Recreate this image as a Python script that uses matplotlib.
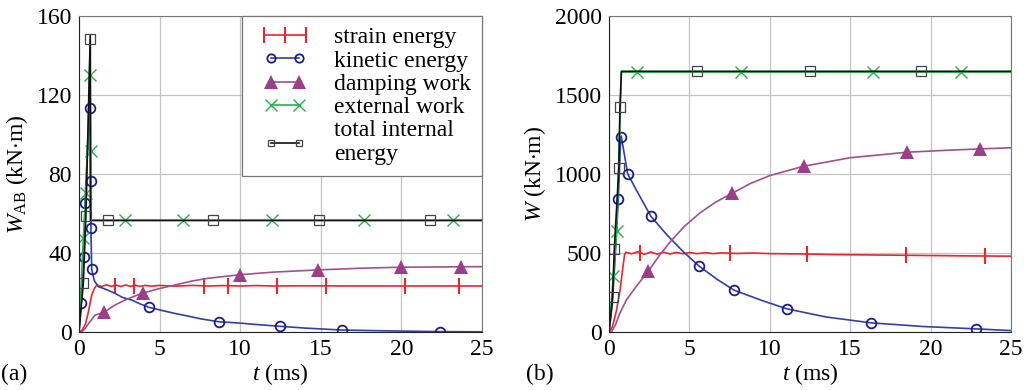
import numpy as np
import matplotlib.pyplot as plt
from matplotlib.lines import Line2D
from matplotlib.legend_handler import HandlerLine2D

plt.rcParams['font.family'] = ['Liberation Serif', 'DejaVu Serif']
plt.rcParams['mathtext.fontset'] = 'custom'
plt.rcParams['mathtext.rm'] = 'Liberation Serif'
plt.rcParams['mathtext.it'] = 'Liberation Serif:italic'

# (a) 선 데이터
ta_strain = [0, 0.2, 0.4, 0.58, 0.7, 0.8, 0.95, 1.1, 1.4, 1.7, 2.0, 2.3, 2.6, 2.9, 3.2, 3.5, 3.8, 4.1,
             4.5, 5, 6, 7, 8, 9, 10, 11, 12, 14, 17, 20, 25]
wa_strain = [0, 1, 4, 10, 15, 19, 22, 23.8, 23.0, 23.9, 23.1, 23.8, 23.0, 23.8, 23.1, 23.7, 23.1, 23.6,
             23.2, 23.6, 23.2, 23.6, 23.3, 23.5, 23.3, 23.5, 23.3, 23.4, 23.3, 23.3, 23.3]
ta_kinetic = [0, 0.14, 0.31, 0.37, 0.55, 0.68, 0.70, 0.72, 0.74, 0.79, 0.95, 1.2, 1.7, 2.23, 2.7, 3.27,
              3.8, 4.34, 5.1, 5.96, 6.8, 7.6, 8.68, 10, 11, 12.3, 14, 16.3, 19, 22.4, 25]
wa_kinetic = [0, 14.8, 37.8, 65.5, 95, 113.3, 118, 78, 52, 31.7, 26, 23, 21.5, 19.6, 17.5, 16.2,
              14.2, 12.5, 11, 9.4, 8, 6.6, 5.2, 4.5, 3.8, 3.0, 2.0, 1.0, 0.6, 0.2, 0.1]
ta_damping = [0, 0.16, 0.4, 0.68, 1.0, 1.57, 2.2, 2.85, 3.4, 4.0, 5.0, 5.96, 7, 8, 10, 12, 15, 17.5, 20, 25]
wa_damping = [0, 0, 2, 5.2, 8.6, 10, 13.5, 16.2, 18, 19.8, 22, 23.8, 25.8, 27.2, 29, 30.3, 31.5, 32.3, 32.8, 33.1]
ta_external = [0, 0.2, 0.27, 0.43, 0.6, 0.7, 0.72, 25]
wa_external = [0, 35, 47.5, 70.5, 110, 148, 56.5, 56.5]
ta_total = [0, 0.27, 0.43, 0.55, 0.7, 0.72, 25]
wa_total = [0, 24.8, 58.7, 100, 150, 56.5, 56.5]

# (a) 마커 데이터
ma_strain = ([2.23, 3.43, 7.77, 9.26, 12.3, 15.3, 20.2, 23.6], [23.5, 23.5, 23.4, 23.4, 23.3, 23.3, 23.3, 23.3])
ma_kinetic = ([0.14, 0.31, 0.37, 0.68, 0.72, 0.74, 0.79, 4.34, 8.68, 12.5, 16.3, 22.4],
              [14.8, 37.8, 65.5, 113.3, 76.6, 52.5, 31.7, 12.5, 5.2, 3.0, 1.0, 0.2])
ma_damping = ([1.57, 4.0, 10.0, 14.85, 20.0, 23.7], [10, 19.6, 28.9, 31.4, 32.8, 32.8])
ma_external = ([0.27, 0.43, 0.71, 0.72, 2.85, 6.43, 11.95, 17.7, 23.2], [47.5, 70.5, 130, 91.6, 56.5, 56.5, 56.5, 56.5, 56.5])
ma_total = ([0.27, 0.43, 0.69, 1.82, 8.29, 14.9, 21.8], [24.8, 58.7, 148.4, 56.5, 56.5, 56.5, 56.5])

# (b) 선 데이터
tb_strain = [0, 0.2, 0.45, 0.68, 0.85, 0.97, 1.05, 1.4, 1.8, 2.2, 2.6, 3.0, 3.4, 3.8, 4.2, 4.6, 5.0, 5.5,
             6, 6.5, 7, 8, 9, 10, 12, 14, 16, 18, 20, 22, 25]
wb_strain = [0, 30, 130, 260, 400, 490, 505, 495, 508, 492, 506, 493, 505, 494, 504, 495, 503, 496,
             502, 496, 501, 497, 500, 496, 494, 490, 488, 486, 484, 482, 480]
tb_kinetic = [0, 0.2, 0.35, 0.58, 0.73, 0.76, 1.16, 1.8, 2.6, 3.6, 4.6, 5.6, 6.7, 7.77, 9.5, 11.05, 13.5,
              16.3, 19.5, 22.8, 25]
wb_kinetic = [0, 170, 420, 843, 1235, 1240, 1001, 880, 733, 615, 510, 417, 335, 265, 200, 147, 95,
              58, 35, 20, 9]
tb_damping = [0, 0.15, 0.4, 0.68, 1.1, 1.7, 2.45, 3.1, 3.8, 4.7, 5.66, 6.6, 7.63, 8.8, 10, 12.1, 15,
              18.55, 21, 23.1, 25]
wb_damping = [0, 0, 45, 120, 206, 290, 385, 480, 570, 670, 754, 820, 877, 940, 990, 1049, 1103,
              1138, 1150, 1159, 1166]
tb_external = [0, 0.27, 0.48, 0.77, 25]
wb_external = [0, 353, 638, 1645, 1645]
tb_total = [0, 0.22, 0.33, 0.61, 0.68, 0.77, 25]
wb_total = [0, 223, 527, 1035, 1423, 1650, 1650]

# (b) 마커 데이터
mb_strain = ([1.93, 7.55, 12.3, 18.5, 23.4], [503, 498, 493, 486, 481])
mb_kinetic = ([0.58, 0.73, 1.16, 2.6, 5.6, 7.77, 11.05, 16.3, 22.8], [843, 1235, 1001, 733, 417, 265, 147, 58, 20])
mb_damping = ([2.45, 7.63, 12.1, 18.55, 23.1], [385, 877, 1049, 1138, 1159])
mb_external = ([0.27, 0.48, 1.73, 8.19, 16.4, 21.9], [353, 638, 1645, 1645, 1645, 1645])
mb_total = ([0.22, 0.33, 0.61, 0.68, 5.5, 12.5, 19.4], [223, 527, 1035, 1423, 1650, 1650, 1650])

labels = ['strain energy', 'kinetic energy', 'damping work', 'external work', 'total internal\nenergy']
line_colors = ['#e8262b', '#3040a8', '#a0508f', '#2aae50', '#111111']
styles = [
    dict(marker='|', ms=11, mew=1.5, mfc='#e8262b', mec='#e8262b'),
    dict(marker='o', ms=7, mew=1.3, mfc='none', mec='#1c1c8a'),
    dict(marker='^', ms=10, mew=0, mfc='#9b3f86', mec='#9b3f86'),
    dict(marker='x', ms=8, mew=1.0, mfc='none', mec='#2aae50'),
    dict(marker='s', ms=6.5, mew=0.9, mfc='none', mec='#444444'),
]
legend_ms = [12, 6, 10, 8, 5]


def panel(ax, lines, marks, ymax, ystep, ylabel, ylab_x):
    for (t, w), (mt, mw), c, st in zip(lines, marks, line_colors, styles):
        ax.plot(t, w, color=c, lw=1.2)
        ax.plot(mt, mw, ls='none', **st)
    ax.set_xlim(0, 25)
    ax.set_ylim(0, ymax)
    ax.set_xticks(np.arange(0, 26, 5))
    ax.set_yticks(np.arange(0, ymax + 1, ystep))
    ax.grid(True, color='#c4c4c4', lw=0.9)
    ax.set_axisbelow(True)
    ax.tick_params(length=0, labelsize=17, pad=5)
    for s in ['left', 'bottom']:
        ax.spines[s].set_color('#222222')
    for s in ['top', 'right']:
        ax.spines[s].set_color('#777777')
    ax.set_ylabel(ylabel, fontsize=17)
    ax.yaxis.set_label_coords(ylab_x, 0.5)
    ax.set_xlabel(r'$t$ (ms)', fontsize=17, labelpad=1)


fig = plt.figure(figsize=(10.31, 3.9), dpi=100)
ax1 = fig.add_axes([0.0766, 0.1487, 0.3909, 0.8103])
ax2 = fig.add_axes([0.5907, 0.1487, 0.3899, 0.8103])

panel(ax1,
      [(ta_strain, wa_strain), (ta_kinetic, wa_kinetic), (ta_damping, wa_damping),
       (ta_external, wa_external), (ta_total, wa_total)],
      [ma_strain, ma_kinetic, ma_damping, ma_external, ma_total],
      160, 40, r'$W_{\rm AB}$ (kN$\cdot$m)', -0.122)
panel(ax2,
      [(tb_strain, wb_strain), (tb_kinetic, wb_kinetic), (tb_damping, wb_damping),
       (tb_external, wb_external), (tb_total, wb_total)],
      [mb_strain, mb_kinetic, mb_damping, mb_external, mb_total],
      2000, 500, r'$W$ (kN$\cdot$m)', -0.152)

fig.text(14 / 1031, 1 - 374 / 390, '(a)', fontsize=17, ha='center', va='center')
fig.text(540 / 1031, 1 - 374 / 390, '(b)', fontsize=17, ha='center', va='center')

handles = []
for c, st, ms in zip(line_colors, styles, legend_ms):
    st2 = dict(st)
    st2['ms'] = ms
    handles.append(Line2D([0], [0], color=c, lw=1.2, **st2))
hmap = {h: HandlerLine2D(numpoints=2, marker_pad=0.75) for h in handles[1:]}
hmap[handles[0]] = HandlerLine2D(numpoints=3, marker_pad=0.45)
leg = ax1.legend(handles, labels, loc='upper right', fontsize=17, frameon=True,
                 fancybox=False, framealpha=1, edgecolor='#777777', borderaxespad=0,
                 handlelength=2.7, handletextpad=0.75, labelspacing=0.08, borderpad=0.45,
                 handler_map=hmap)
leg.get_frame().set_linewidth(0.9)

fig.savefig('out.png', dpi=100)
